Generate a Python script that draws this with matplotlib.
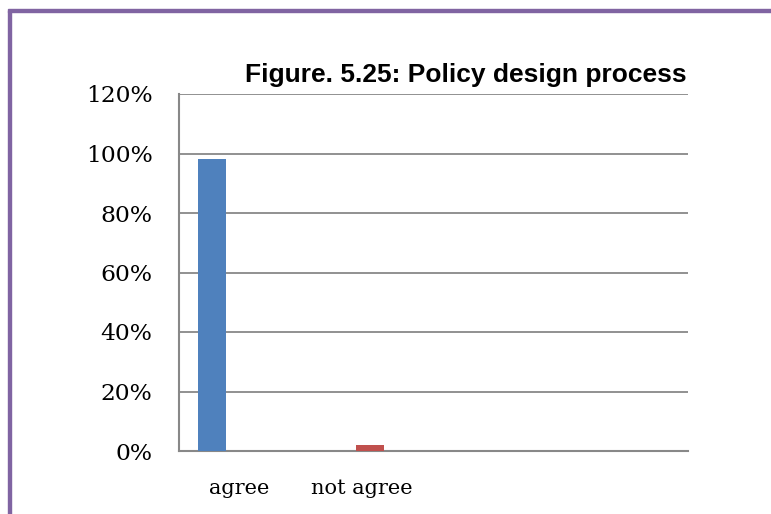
import matplotlib.pyplot as plt
from matplotlib.patches import Rectangle

# survey answers, share of respondents
labels = ["agree", "not agree"]
values = [98, 2]
colors = ["#4F81BD", "#C0504D"]
bar_x = [0.26, 1.50]
label_x = [0.47, 1.44]
yticks = [0, 20, 40, 60, 80, 100, 120]

fig = plt.figure(figsize=(7.71, 5.14), dpi=100)
ax = fig.add_axes([179/771, 1-451/514, (688-179)/771, (451-94)/514])

ax.bar(bar_x, values, width=0.22, color=colors, zorder=3)

ax.set_xlim(0, 4)
ax.set_ylim(0, 120)
ax.set_yticks(yticks)
ax.set_yticklabels([f"{t}%" for t in yticks], family="DejaVu Serif", fontsize=16.8)
ax.set_xticks(label_x)
ax.set_xticklabels(labels, family="DejaVu Serif", fontsize=15)
ax.tick_params(axis="y", length=0, pad=19)
ax.tick_params(axis="x", length=0, pad=20)
ax.grid(axis="y", color="#888888", linewidth=1.3, zorder=0)
for s in ["top", "right"]:
    ax.spines[s].set_visible(False)
for s in ["left", "bottom"]:
    ax.spines[s].set_color("#888888")
    ax.spines[s].set_linewidth(1.5)

fig.text(466/771, 1-75/514, "Figure. 5.25: Policy design process",
         family="Liberation Sans", fontweight="bold", fontsize=19,
         ha="center", va="center")

# purple frame on the left and top edges
fig.patches.append(Rectangle((8/771, -0.01), 3/771, 1-11/514+0.01,
                             transform=fig.transFigure, color="#8064A2"))
fig.patches.append(Rectangle((8/771, 1-12/514), 1, 3/514,
                             transform=fig.transFigure, color="#8064A2"))

fig.savefig("out.png", dpi=100)
